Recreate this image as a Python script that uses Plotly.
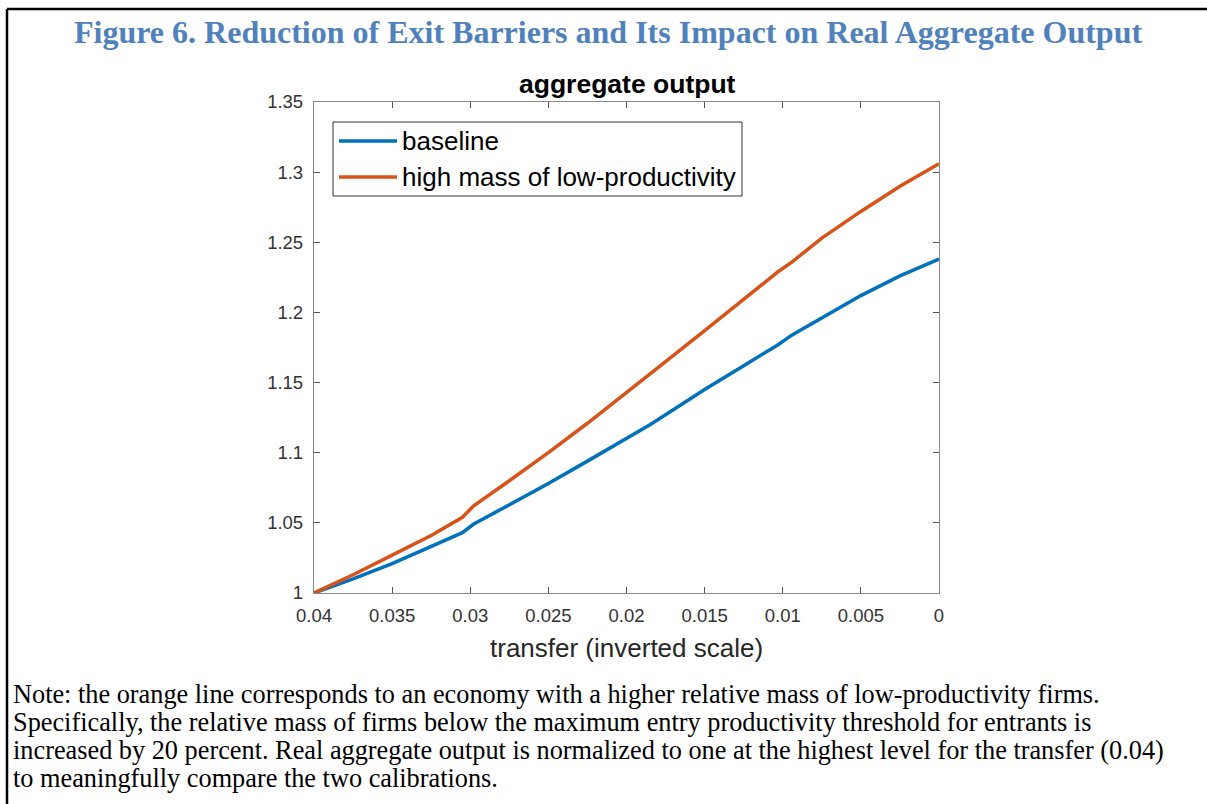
import plotly.graph_objects as go

# ---------------- data ----------------
transfer = [0.04, 0.0375, 0.035, 0.0325, 0.0305, 0.0298, 0.0275, 0.025, 0.0225, 0.0195,
            0.0185, 0.0175, 0.015, 0.0125, 0.0103, 0.0094, 0.0075, 0.005, 0.0025, 0.0]
baseline = [1.0, 1.010, 1.021, 1.033, 1.043, 1.049, 1.063, 1.078, 1.094, 1.113,
            1.120, 1.127, 1.145, 1.162, 1.177, 1.184, 1.196, 1.212, 1.226, 1.238]
high_mass = [1.0, 1.013, 1.027, 1.041, 1.054, 1.062, 1.080, 1.100, 1.121, 1.147,
             1.156, 1.165, 1.187, 1.209, 1.229, 1.236, 1.253, 1.272, 1.290, 1.306]
series_names = ["baseline", "high mass of low-productivity"]
series_colors = ["#0072BD", "#D95319"]
x_ticks = [0.04, 0.035, 0.03, 0.025, 0.02, 0.015, 0.01, 0.005, 0.0]
x_tick_labels = ["0.04", "0.035", "0.03", "0.025", "0.02", "0.015", "0.01", "0.005", "0"]
y_ticks = [1.0, 1.05, 1.1, 1.15, 1.2, 1.25, 1.3, 1.35]
y_tick_labels = ["1", "1.05", "1.1", "1.15", "1.2", "1.25", "1.3", "1.35"]

fig_title = "Figure 6. Reduction of Exit Barriers and Its Impact on Real Aggregate Output"
chart_title = "aggregate output"
x_title = "transfer (inverted scale)"
note_lines = [
    "Note: the orange line corresponds to an economy with a higher relative mass of low-productivity firms.",
    "Specifically, the relative mass of firms below the maximum entry productivity threshold for entrants is",
    "increased by 20 percent. Real aggregate output is normalized to one at the highest level for the transfer (0.04)",
    "to meaningfully compare the two calibrations.",
]

# ---------------- layout helpers ----------------
W, H = 1207, 804
def px(x):
    return x / W
def py(y):
    return 1 - y / H

L, R, T, B = 314, 939, 102, 593

fig = go.Figure()
for name, ys, col in zip(series_names, [baseline, high_mass], series_colors):
    fig.add_trace(go.Scatter(x=transfer, y=ys, mode="lines", name=name,
                             line=dict(color=col, width=3.5), showlegend=False))

axis_common = dict(showline=True, linecolor="#8a8a8a", linewidth=1.3, mirror="allticks",
                   ticks="inside", ticklen=6, tickcolor="#555555", tickwidth=1,
                   showgrid=False, zeroline=False, automargin=False,
                   tickfont=dict(family="Liberation Sans, Arial", size=18.5, color="#333333"))

fig.update_layout(
    template="none",
    width=W, height=H,
    margin=dict(l=0, r=0, t=0, b=0, pad=0, autoexpand=False),
    paper_bgcolor="white", plot_bgcolor="white",
    xaxis=dict(domain=[px(L), px(R)], range=[0.04, 0.0], tickvals=x_ticks,
               ticktext=x_tick_labels, ticklabelstandoff=6, **axis_common),
    yaxis=dict(domain=[py(B), py(T)], range=[1.0, 1.35], tickvals=y_ticks,
               ticktext=y_tick_labels, ticklabelstandoff=6, **axis_common),
    showlegend=False,
)

# frame borders
fig.add_shape(type="line", xref="paper", yref="paper", x0=px(7), x1=px(1207), y0=py(9), y1=py(9),
              line=dict(color="black", width=2.5))
fig.add_shape(type="line", xref="paper", yref="paper", x0=px(7), x1=px(7), y0=py(9), y1=py(804),
              line=dict(color="black", width=2.5))

# figure heading
fig.add_annotation(text="<b>" + fig_title + "</b>", xref="paper", yref="paper",
                   x=px(608), y=py(32), xanchor="center", yanchor="middle", showarrow=False,
                   font=dict(family="Liberation Serif, Times New Roman", size=32, color="#4F81BD"))

# chart title
fig.add_annotation(text="<b>" + chart_title + "</b>", xref="paper", yref="paper",
                   x=px(627), y=py(84), xanchor="center", yanchor="middle", showarrow=False,
                   font=dict(family="Liberation Sans, Arial", size=26.5, color="black"))

# x-axis title
fig.add_annotation(text=x_title, xref="paper", yref="paper",
                   x=px(626), y=py(648), xanchor="center", yanchor="middle", showarrow=False,
                   font=dict(family="Liberation Sans, Arial", size=26, color="#262626"))

# legend (box, samples, labels)
fig.add_shape(type="rect", xref="paper", yref="paper", x0=px(333), x1=px(742), y0=py(122), y1=py(196),
              line=dict(color="#333333", width=1), fillcolor="white", layer="above")
for i, (name, col) in enumerate(zip(series_names, series_colors)):
    yc = 141 + i * 36
    fig.add_shape(type="line", xref="paper", yref="paper", x0=px(339), x1=px(397), y0=py(yc), y1=py(yc),
                  line=dict(color=col, width=3.5), layer="above")
    fig.add_annotation(text=name, xref="paper", yref="paper", x=px(400), y=py(yc),
                       xanchor="left", yanchor="middle", showarrow=False,
                       font=dict(family="Liberation Sans, Arial", size=26, color="black"))

# note text
for i, line in enumerate(note_lines):
    fig.add_annotation(text=line, xref="paper", yref="paper", x=px(11), y=py(694 + i * 28.2),
                       xanchor="left", yanchor="middle", showarrow=False,
                       font=dict(family="Liberation Serif, Times New Roman", size=26.3, color="black"))

fig.write_html("out.html", config={"displayModeBar": False},
               post_script="document.body.style.margin='0';document.body.style.overflow='hidden';")
